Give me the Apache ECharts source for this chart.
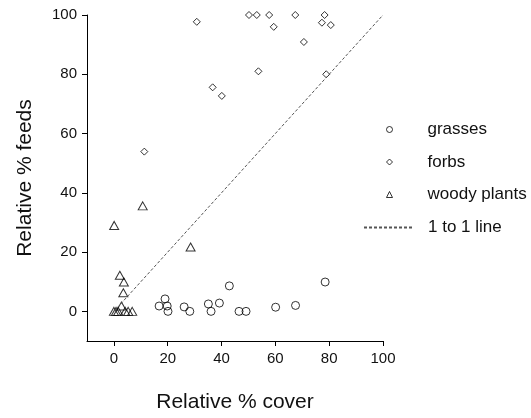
<!doctype html>
<html>
<head>
<meta charset="utf-8">
<title>Relative % feeds vs cover</title>
<script src="https://cdn.jsdelivr.net/npm/echarts@6/dist/echarts.min.js"></script>
<style>
  html, body { margin: 0; padding: 0; background: #fff; }
  #chart { width: 531px; height: 418px; }
</style>
</head>
<body>
<div id="chart"></div>
<script>
  // values: [relative % cover, relative % feeds]
  var grasses = [
    [16.8, 1.8], [19, 4.2], [19.8, 1.8], [20.1, 0], [26.1, 1.5], [28.2, 0],
    [35.1, 2.5], [36.1, 0], [39.2, 2.8], [42.9, 8.6], [46.5, 0], [49.1, 0],
    [60.1, 1.4], [67.5, 2], [78.5, 9.9]
  ];
  var forbs = [
    [11.3, 53.9], [30.8, 97.7], [36.7, 75.6], [40.1, 72.7], [50.2, 100],
    [53.1, 100], [53.7, 81], [57.7, 100], [59.4, 96], [67.4, 100],
    [70.6, 90.9], [77.3, 97.4], [78.3, 100], [78.9, 80], [80.6, 96.6]
  ];
  var woody = [
    [0.1, 29], [10.7, 35.6], [28.5, 21.7], [2.2, 12.2], [3.7, 9.9], [3.5, 6.3],
    [0, 0], [0.8, 0], [1.6, 0], [2.8, 1.8], [4.2, 0], [5.3, 0], [6.8, 0]
  ];
  var oneToOne = [[0, 0], [100, 100]];
  var tickValues = [0, 20, 40, 60, 80, 100];

  var font = "'Liberation Sans', Arial, Helvetica, sans-serif";
  var chart = echarts.init(document.getElementById('chart'));

  var axisCommon = {
    type: 'value',
    min: -10,
    max: 100,
    nameLocation: 'middle',
    nameTextStyle: { fontFamily: font, fontSize: 21, color: '#111' },
    axisLine: { show: true, onZero: false, lineStyle: { color: '#000', width: 1 } },
    axisTick: { show: true, length: 5, customValues: tickValues, lineStyle: { color: '#000' } },
    axisLabel: { customValues: tickValues, margin: 10, fontFamily: font, fontSize: 15, color: '#111' },
    splitLine: { show: false }
  };

  var hollow = { color: 'transparent', borderColor: '#000', borderWidth: 1 };
  var legendText = { fontFamily: font, fontSize: 17, color: '#111' };

  chart.setOption({
    animation: false,
    backgroundColor: '#fff',
    grid: { left: 87, right: 148, top: 15, bottom: 77, containLabel: false, outerBoundsMode: 'none' },
    xAxis: Object.assign({}, axisCommon, { name: 'Relative % cover', nameGap: 51 }),
    yAxis: Object.assign({}, axisCommon, { name: 'Relative % feeds', nameGap: 51 }),
    legend: [
      {
        // symbol entries
        orient: 'vertical',
        left: 386,
        top: 121,
        padding: 0,
        itemWidth: 6,
        itemHeight: 6,
        itemGap: 15.5,
        itemStyle: { borderWidth: 1 },
        textStyle: Object.assign({ padding: [0, 0, 0, 30] }, legendText),
        data: ['grasses', 'forbs', 'woody plants']
      },
      {
        // dashed line entry
        orient: 'vertical',
        left: 363,
        top: 219,
        padding: 0,
        itemWidth: 50,
        itemHeight: 6,
        itemStyle: { opacity: 0 },
        textStyle: Object.assign({ padding: [0, 0, 0, 9] }, legendText),
        data: ['1 to 1 line']
      }
    ],
    series: [
      { name: 'grasses', type: 'scatter', symbol: 'circle', symbolSize: 8, data: grasses, itemStyle: hollow },
      { name: 'forbs', type: 'scatter', symbol: 'diamond', symbolSize: 7, data: forbs, itemStyle: hollow },
      { name: 'woody plants', type: 'scatter', symbol: 'triangle', symbolSize: [9, 8], data: woody, itemStyle: hollow },
      {
        name: '1 to 1 line', type: 'line', data: oneToOne, symbol: 'none', silent: true,
        lineStyle: { color: '#555', width: 1, type: [3, 2] }
      }
    ]
  });
</script>
</body>
</html>
